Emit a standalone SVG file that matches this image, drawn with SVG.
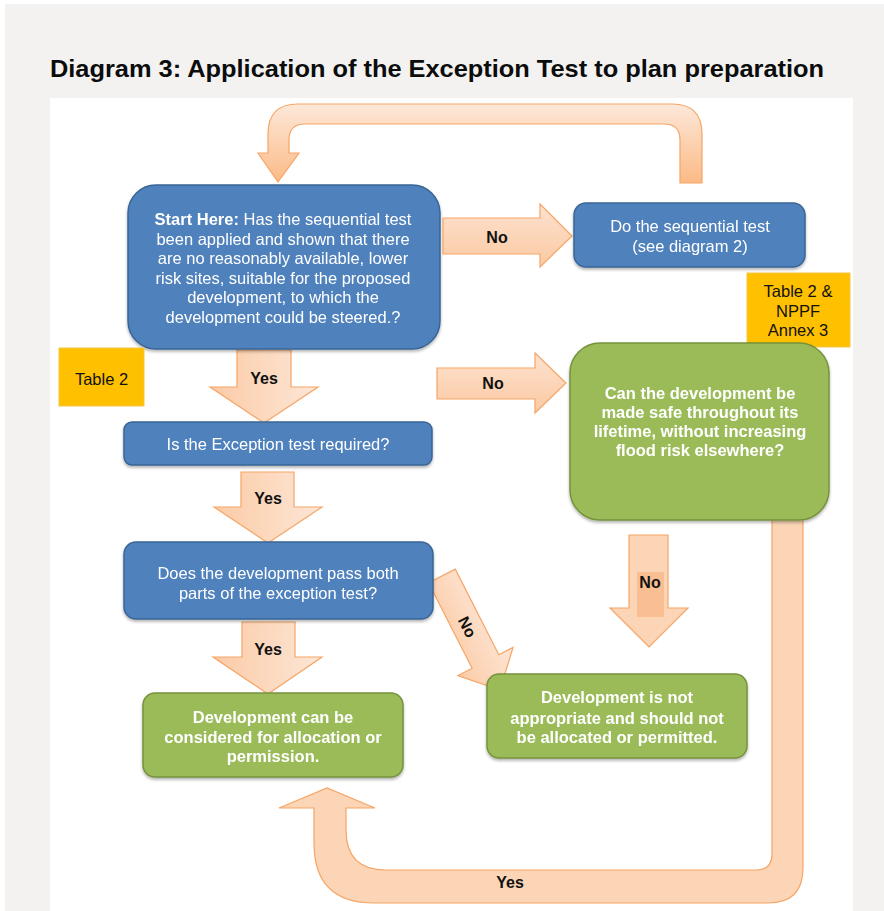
<svg xmlns="http://www.w3.org/2000/svg" width="884" height="911" viewBox="0 0 884 911">
<style>
.t{font-family:"Liberation Sans",Arial,sans-serif;font-size:16.5px;text-anchor:middle}
.w{fill:#ffffff}
.wb{fill:#ffffff;font-weight:bold}
.k{fill:#111111}
.kb{fill:#111111;font-weight:bold;font-size:16px}
.blue{fill:#4f81bd;stroke:#3a6596;stroke-width:1.5}
.green{fill:#9bbb59;stroke:#76923c;stroke-width:1.5}
.yel{fill:#ffc000;stroke:#f5c542;stroke-width:1}
.arr{stroke:#f6a566;stroke-width:1.2;stroke-linejoin:miter}
</style>
<defs>
<linearGradient id="gh" x1="0" y1="0" x2="1" y2="0"><stop offset="0" stop-color="#fbcba6"/><stop offset="1" stop-color="#fde6d6"/></linearGradient>
<linearGradient id="gv" x1="0" y1="0" x2="0" y2="1"><stop offset="0" stop-color="#fde2cf"/><stop offset="1" stop-color="#fbc9a2"/></linearGradient>
<linearGradient id="gtop" x1="0" y1="0" x2="0" y2="1"><stop offset="0" stop-color="#fde8d9"/><stop offset="1" stop-color="#fbba86"/></linearGradient>
<filter id="sh" x="-10%" y="-10%" width="120%" height="130%"><feDropShadow dx="0" dy="2" stdDeviation="1.5" flood-color="#000" flood-opacity="0.3"/></filter>
</defs>
<rect x="0" y="0" width="884" height="911" fill="#ffffff"/>
<rect x="5" y="4" width="879" height="907" fill="#f3f2f1"/>
<text x="50" y="77" font-family="'Liberation Sans',Arial,sans-serif" font-size="24" font-weight="bold" fill="#0b0c0c" textLength="774" lengthAdjust="spacingAndGlyphs">Diagram 3: Application of the Exception Test to plan preparation</text>
<rect x="50" y="98" width="803" height="813" fill="#ffffff"/>

<g id="connectors">
<path class="arr" fill="url(#gtop)" d="M680,183 L680,140 Q680,124 664,124 L305,124 Q289,124 289,140 L289,153 L299,153 L278,182 L258,153 L268,153 L268,134 Q268,104 298,104 L672,104 Q702,104 702,134 L702,183 Z"/>
<path class="arr" fill="#fbd5b5" d="M772,515 L803,515 L803,868 Q803,903 768,903 L374,903 Q314,903 314,843 L314,808 L279,808 L327,788 L375,808 L346,808 L346,830 Q346,870 386,870 L756,870 Q772,870 772,854 Z"/>
<text class="t kb" x="510" y="888">Yes</text>
<path class="arr" fill="url(#gv)" d="M443,218 L540,218 L540,204 L572,236 L540,267 L540,254 L443,254 Z"/>
<text class="t kb" x="497" y="243">No</text>
<path class="arr" fill="url(#gh)" d="M237,350 L291,350 L291,387 L318,387 L264,423 L210,387 L237,387 Z"/>
<text class="t kb" x="264" y="384">Yes</text>
<path class="arr" fill="url(#gv)" d="M437,368 L535,368 L535,353 L566,383 L535,413 L535,399 L437,399 Z"/>
<text class="t kb" x="493" y="389">No</text>
<path class="arr" fill="url(#gh)" d="M241,472 L294,472 L294,507 L322,507 L268,543 L214,507 L241,507 Z"/>
<text class="t kb" x="268" y="504">Yes</text>
<g transform="translate(500,690) rotate(-27)">
<path class="arr" fill="url(#gh)" d="M-15,-128 L15,-128 L15,-32 L31,-32 L0,0 L-31,-32 L-15,-32 Z"/>
<text class="t kb" transform="translate(0,-71) rotate(90)" x="0" y="6">No</text>
</g>
<path class="arr" fill="#fbd5b5" d="M629,535 L668,535 L668,608 L688,608 L649,647 L610,608 L629,608 Z"/>
<rect x="637" y="572" width="27" height="45" fill="#f9bf92"/>
<text class="t kb" x="650" y="588">No</text>
<path class="arr" fill="url(#gh)" d="M242,622 L295,622 L295,657 L322,657 L268,694 L213,657 L242,657 Z"/>
<text class="t kb" x="268" y="655">Yes</text>
</g>

<g id="start" filter="url(#sh)">
<rect class="blue" x="128" y="185" width="312" height="164" rx="28"/>
<text class="t w" x="283" y="225"><tspan font-weight="bold">Start Here:</tspan> Has the sequential test</text>
<text class="t w" x="283" y="245">been applied and shown that there</text>
<text class="t w" x="283" y="264">are no reasonably available, lower</text>
<text class="t w" x="283" y="284">risk sites, suitable for the proposed</text>
<text class="t w" x="283" y="303">development, to which the</text>
<text class="t w" x="283" y="323">development could be steered.?</text>
</g>
<g id="sequential" filter="url(#sh)">
<rect class="blue" x="574" y="203" width="231" height="64" rx="12"/>
<text class="t w" x="690" y="232">Do the sequential test</text>
<text class="t w" x="690" y="252">(see diagram 2)</text>
</g>
<g id="table2npff">
<rect class="yel" x="747" y="273" width="103" height="74"/>
<text class="t k" x="798" y="297">Table 2 &amp;</text>
<text class="t k" x="798" y="317">NPPF</text>
<text class="t k" x="798" y="336">Annex 3</text>
</g>
<g id="table2">
<rect class="yel" x="59" y="348" width="85" height="58"/>
<text class="t k" x="101.5" y="385">Table 2</text>
</g>
<g id="exception-required" filter="url(#sh)">
<rect class="blue" x="124" y="422" width="308" height="43" rx="8"/>
<text class="t w" x="278" y="450">Is the Exception test required?</text>
</g>
<g id="made-safe" filter="url(#sh)">
<rect class="green" x="570" y="343" width="259" height="177" rx="30"/>
<text class="t wb" x="700" y="399">Can the development be</text>
<text class="t wb" x="700" y="418">made safe throughout its</text>
<text class="t wb" x="700" y="437">lifetime, without increasing</text>
<text class="t wb" x="700" y="456">flood risk elsewhere?</text>
</g>
<g id="pass-both" filter="url(#sh)">
<rect class="blue" x="124" y="542" width="309" height="77" rx="12"/>
<text class="t w" x="278" y="579">Does the development pass both</text>
<text class="t w" x="278" y="599">parts of the exception test?</text>
</g>
<g id="not-appropriate" filter="url(#sh)">
<rect class="green" x="487" y="674" width="260" height="84" rx="12"/>
<text class="t wb" x="617" y="703">Development is not</text>
<text class="t wb" x="617" y="724">appropriate and should not</text>
<text class="t wb" x="617" y="743">be allocated or permitted.</text>
</g>
<g id="allocation" filter="url(#sh)">
<rect class="green" x="143" y="693" width="260" height="84" rx="12"/>
<text class="t wb" x="273" y="723">Development can be</text>
<text class="t wb" x="273" y="743">considered for allocation or</text>
<text class="t wb" x="273" y="762">permission.</text>
</g>
</svg>
